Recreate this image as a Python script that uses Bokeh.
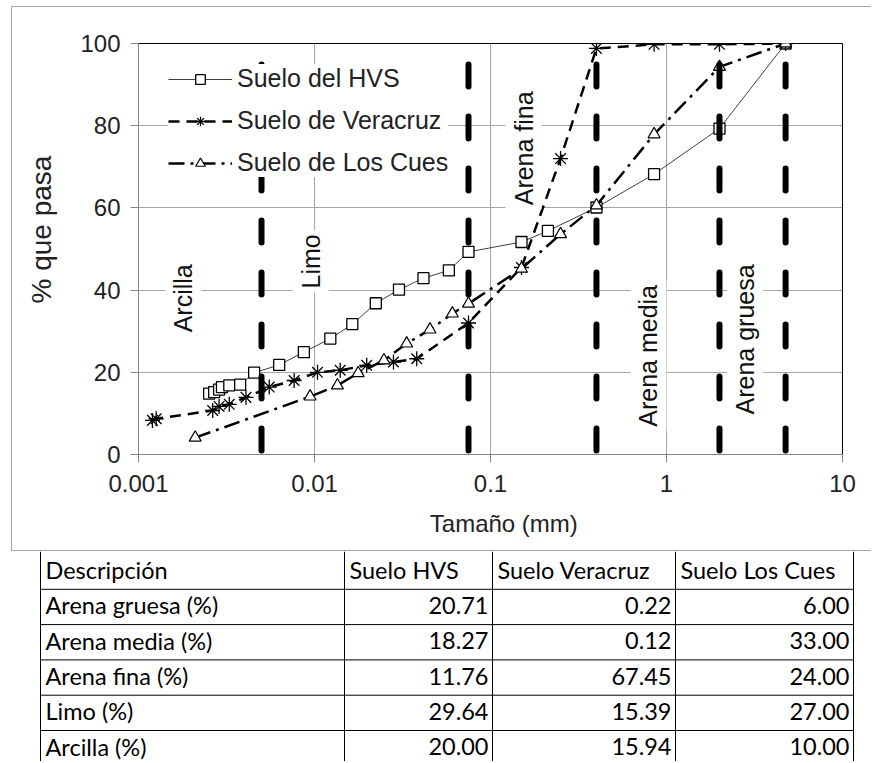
import math
from bokeh.plotting import figure
from bokeh.models import (Range1d, Label, Legend, LegendItem, FixedTicker,
                          CustomJSTickFormatter)
from bokeh.embed import file_html
from bokeh.resources import INLINE
from bokeh.core.properties import value

# ---- grain-size curves: particle size (mm) and percent passing ----
hvs_size = [0.00252, 0.00269, 0.00287, 0.00298, 0.00328, 0.00378, 0.00454, 0.0063,
            0.0087, 0.0123, 0.0164, 0.0223, 0.0302, 0.0416, 0.058, 0.075, 0.15,
            0.212, 0.4, 0.85, 2.0, 4.75]
hvs_pass = [14.8, 15.2, 15.8, 16.4, 16.8, 17.0, 19.9, 21.8, 24.9, 28.2, 31.7, 36.8,
            40.1, 42.9, 44.8, 49.3, 51.7, 54.4, 60.1, 68.2, 79.3, 100.0]

ver_size = [0.0012, 0.00126, 0.00264, 0.00287, 0.00328, 0.00408, 0.00553, 0.00766,
            0.0104, 0.0140, 0.0198, 0.0281, 0.0381, 0.075, 0.15, 0.25, 0.4, 0.85,
            2.0, 4.75]
ver_pass = [8.3, 8.7, 10.7, 11.7, 12.2, 13.9, 16.4, 18.0, 20.0, 20.5, 21.7, 22.5,
            23.3, 32.0, 45.5, 72.0, 98.8, 99.8, 99.8, 100.0]

cues_size = [0.0021, 0.00944, 0.0135, 0.0177, 0.0248, 0.0334, 0.0453, 0.0607, 0.075,
             0.15, 0.25, 0.4, 0.85, 2.0, 4.75]
cues_pass = [4.1, 14.1, 16.8, 19.8, 22.9, 27.0, 30.4, 34.3, 36.7, 45.2, 53.6, 60.6,
             77.9, 94.3, 100.0]

series_names = ["Suelo del HVS", "Suelo de Veracruz", "Suelo de Los Cues"]

# soil fraction boundaries (mm) and zone names
boundaries = [0.005, 0.075, 0.4, 2.0, 4.75]
zone_names = ["Arcilla", "Limo", "Arena fina", "Arena media", "Arena gruesa"]
zone_x = [0.0018, 0.0095, 0.154, 0.79, 2.8]
zone_y = [38, 47, 74.5, 24, 28]

x_ticks = [0.001, 0.01, 0.1, 1, 10]
x_tick_labels = ["0.001", "0.01", "0.1", "1", "10"]
y_ticks = [0, 20, 40, 60, 80, 100]

# ---- summary table ----
table_header = ["Descripción", "Suelo HVS", "Suelo Veracruz", "Suelo Los Cues"]
table_rows = ["Arena gruesa (%)", "Arena media (%)", "Arena fina (%)", "Limo (%)",
              "Arcilla (%)"]
table_hvs = [20.71, 18.27, 11.76, 29.64, 20.00]
table_veracruz = [0.22, 0.12, 67.45, 15.39, 15.94]
table_cues = [6.00, 33.00, 24.00, 27.00, 10.00]

FONT = "Liberation Sans"
GRID = "#a6a6a6"
NBSP = "\u00a0"

p = figure(width=860, height=545, x_axis_type="log",
           x_range=Range1d(0.001, 10), y_range=Range1d(0, 100),
           output_backend="svg", toolbar_location=None,
           min_border_left=126, min_border_right=30,
           min_border_top=36, min_border_bottom=98)
p.margin = (6, 0, 0, 11)
p.styles = {"border-top": "1px solid #a6a6a6", "border-left": "1px solid #a6a6a6",
            "border-bottom": "1px solid #a6a6a6"}
p.outline_line_color = "black"
p.outline_line_width = 1

# axes
p.xaxis.ticker = FixedTicker(ticks=x_ticks)
p.xaxis.formatter = CustomJSTickFormatter(
    args=dict(tick_vals=x_ticks, tick_names=x_tick_labels),
    code="""
    let best = 0, d = Infinity;
    for (let i = 0; i < tick_vals.length; i++) {
        const e = Math.abs(Math.log10(tick_vals[i]) - Math.log10(tick));
        if (e < d) { d = e; best = i; }
    }
    return tick_names[best];
    """)
p.yaxis.ticker = FixedTicker(ticks=y_ticks)
for ax in (p.xaxis[0], p.yaxis[0]):
    ax.axis_line_color = "#868686"
    ax.major_tick_line_color = "#868686"
    ax.major_tick_out = 8
    ax.major_tick_in = 0
    ax.minor_tick_line_color = None
    ax.major_label_text_font = FONT
    ax.major_label_text_font_size = "24px"
    ax.major_label_text_color = "#222222"
    ax.axis_label_text_font = FONT
    ax.axis_label_text_font_size = "24px"
    ax.axis_label_text_font_style = "normal"
    ax.axis_label_text_color = "#222222"
# titles sit a little off the frame centre, padded with non-breaking spaces
p.xaxis.axis_label = NBSP * 4 + "Tamaño (mm)"
p.yaxis.axis_label = NBSP * 5 + "% que pasa"
p.yaxis.axis_label_text_font_size = "28px"
p.xaxis.major_label_standoff = 12
p.yaxis.major_label_standoff = 10
p.xaxis.axis_label_standoff = 15
p.yaxis.axis_label_standoff = 20

p.xgrid.ticker = FixedTicker(ticks=[0.01, 0.1, 1])
p.ygrid.ticker = FixedTicker(ticks=[20, 40, 60, 80])
for g in (p.xgrid[0], p.ygrid[0]):
    g.grid_line_color = GRID
    g.grid_line_width = 1

# curves
l1 = p.line(hvs_size, hvs_pass, line_color="#404040", line_width=1)
s1 = p.scatter(hvs_size, hvs_pass, marker="square", size=11,
               line_color="black", line_width=1.3, fill_color="white")
l2 = p.line(ver_size, ver_pass, line_color="black", line_width=2.5, line_dash="11 7")
s2 = p.scatter(ver_size, ver_pass, marker="asterisk", size=15,
               line_color="black", line_width=1.3)
l3 = p.line(cues_size, cues_pass, line_color="black", line_width=2.5,
            line_dash="16 6 3 6")
s3 = p.scatter(cues_size, cues_pass, marker="triangle", size=12,
               line_color="black", line_width=1.2, fill_color="white")

# fraction boundaries
p.segment(x0=boundaries, y0=[0] * len(boundaries), x1=boundaries,
          y1=[100] * len(boundaries), line_color="black", line_width=6,
          line_dash="22 30", line_dash_offset=48, line_cap="round")

# zone labels
for name, zx, zy in zip(zone_names, zone_x, zone_y):
    p.add_layout(Label(x=zx, y=zy, text=name, angle=math.pi / 2,
                       text_align="center", text_baseline="middle",
                       text_font=FONT, text_font_size="25px", text_color="#111111",
                       background_fill_color="white", padding=4))

legend = Legend(items=[LegendItem(label=series_names[0], renderers=[l1, s1]),
                       LegendItem(label=series_names[1], renderers=[l2, s2]),
                       LegendItem(label=series_names[2], renderers=[l3, s3])],
                location=(30, 277), border_line_color=None,
                background_fill_color="white", background_fill_alpha=1,
                padding=7, margin=0, spacing=13, glyph_width=64, glyph_height=24,
                label_height=24, label_standoff=5,
                label_text_font=FONT, label_text_font_size="25px",
                label_text_color="#222222")
p.add_layout(legend)

# ---- table drawn in pixel space ----
TW, TH = 872, 210
col_edges = [40, 344, 492, 675, 853]
table_top = 1
row_h = 35.3
n_rows = len(table_rows) + 1

t = figure(width=TW, height=TH, x_range=Range1d(0, TW), y_range=Range1d(TH, 0),
           output_backend="svg", toolbar_location=None, min_border=0)
t.min_border_left = t.min_border_right = t.min_border_top = t.min_border_bottom = 0
t.axis.visible = False
t.grid.visible = False
t.outline_line_color = None

row_lines = [table_top + 1.5 + row_h * (i + 1) for i in range(n_rows)]
t.segment(x0=col_edges, y0=[0] * len(col_edges), x1=col_edges,
          y1=[row_lines[-1]] * len(col_edges), line_color="black", line_width=1)
t.segment(x0=[col_edges[0]] * n_rows, y0=row_lines, x1=[col_edges[-1]] * n_rows,
          y1=row_lines, line_color="black", line_width=1)

TFONT = value("Lato")
TSIZE = "23.5px"
row_mid = [table_top + row_h * (i + 0.5) for i in range(n_rows)]
t.text(x=[e + 5 for e in col_edges[:-1]], y=[row_mid[0]] * 4, text=table_header,
       text_font=TFONT, text_font_size=TSIZE, text_align="left",
       text_baseline="middle", text_color="black")
t.text(x=[col_edges[0] + 5] * len(table_rows), y=row_mid[1:], text=table_rows,
       text_font=TFONT, text_font_size=TSIZE, text_align="left",
       text_baseline="middle", text_color="black")
for j, vals in enumerate([table_hvs, table_veracruz, table_cues]):
    t.text(x=[col_edges[j + 2] - 4] * len(vals), y=row_mid[1:],
           text=[f"{v:.2f}" for v in vals], text_font=TFONT,
           text_font_size=TSIZE, text_align="right", text_baseline="middle",
           text_color="black")

open("out.html", "w").write(file_html([p, t], INLINE))
